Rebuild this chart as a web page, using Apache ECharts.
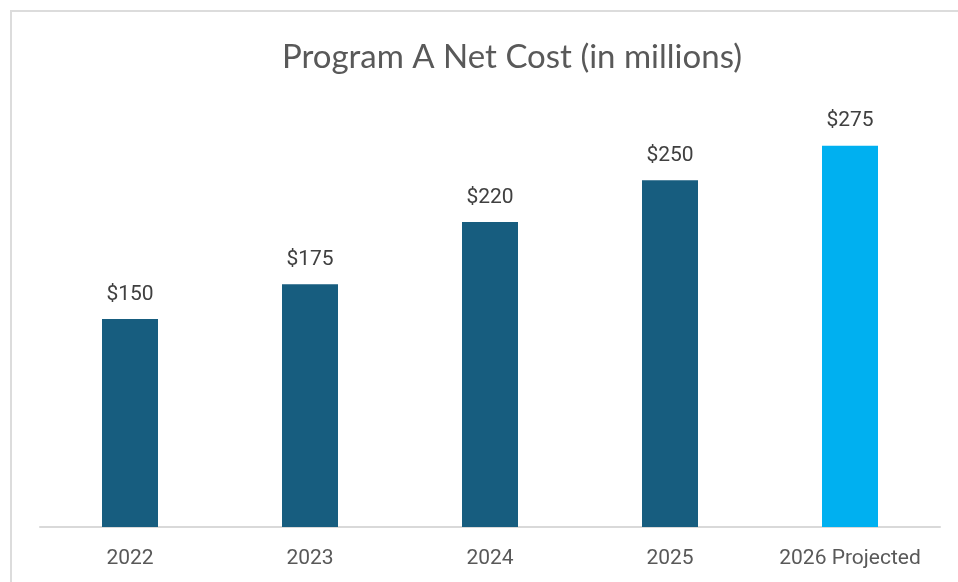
<!DOCTYPE html>
<html><head><meta charset="utf-8">
<script src="https://cdn.jsdelivr.net/npm/echarts@6/dist/echarts.min.js"></script>
<style>html,body{margin:0;padding:0;background:#fff;}#c{width:958px;height:582px;}</style>
</head><body><div id="c"></div>
<script>
const categories = ['2022', '2023', '2024', '2025', '2026 Projected'];
const values = [150, 175, 220, 250, 275];
const barColors = ['#175D7F', '#175D7F', '#175D7F', '#175D7F', '#00B0F0'];
const titleText = 'Program A Net Cost (in millions)';

const chart = echarts.init(document.getElementById('c'));
chart.setOption({
  animation: false,
  backgroundColor: '#fff',
  graphic: [{
    type: 'rect', silent: true,
    shape: { x: 11, y: 11, width: 980, height: 620 },
    style: { fill: 'none', stroke: '#dcdcdc', lineWidth: 2 }
  }],
  title: {
    text: titleText, left: 507, top: 36, textAlign: 'center',
    textStyle: { fontFamily: 'Lato', fontSize: 33, fontWeight: 'normal', color: '#595959' }
  },
  grid: { left: 40, right: 18, top: 111, bottom: 55, containLabel: false },
  xAxis: {
    type: 'category', data: categories,
    axisLine: { lineStyle: { color: '#d9d9d9', width: 2 } },
    axisTick: { show: false },
    axisLabel: { interval: 0, hideOverlap: false, fontFamily: 'Roboto', fontSize: 21, color: '#595959', margin: 21 }
  },
  yAxis: { type: 'value', min: 0, max: 300, show: false, splitLine: { show: false } },
  series: [{
    type: 'bar', barWidth: 56,
    data: values.map((v, i) => ({ value: v, itemStyle: { color: barColors[i] } })),
    label: {
      show: true, position: 'top', distance: 14,
      formatter: p => '$' + p.value,
      fontFamily: 'Roboto', fontSize: 21, color: '#404040'
    }
  }]
});
</script></body></html>
